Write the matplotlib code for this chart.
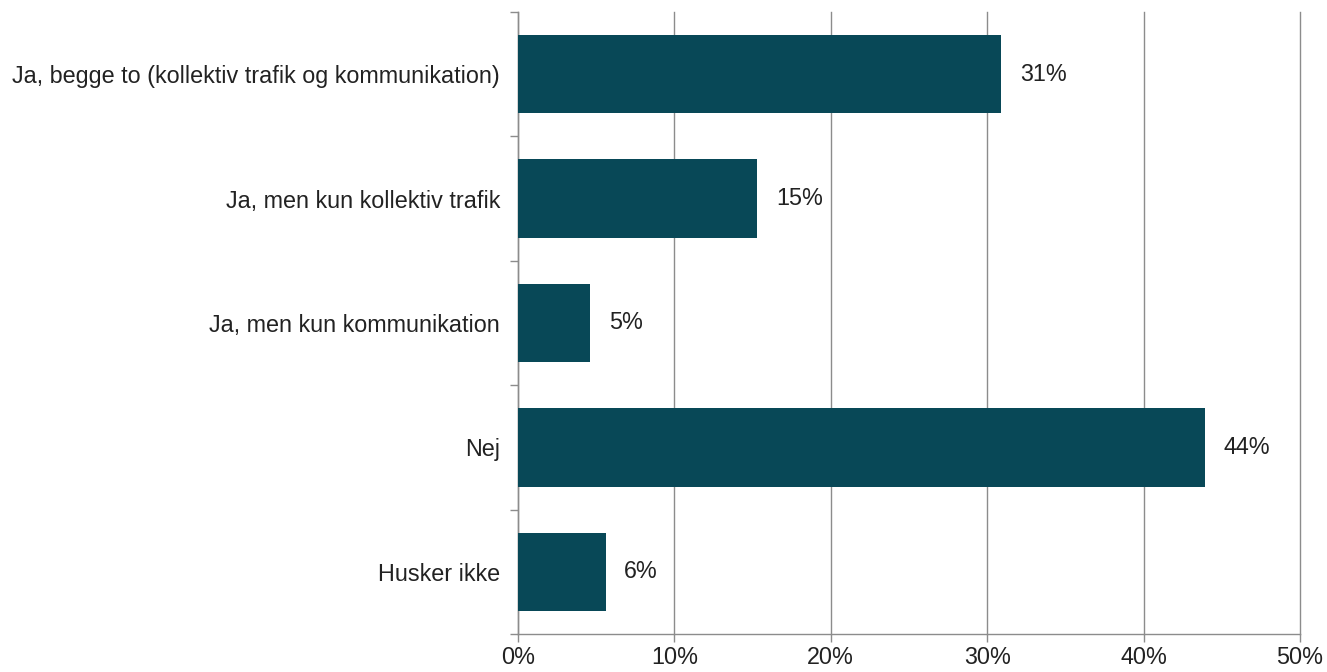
import matplotlib
matplotlib.use("Agg")
import matplotlib.pyplot as plt
from matplotlib.ticker import FuncFormatter

categories = ["Ja, begge to (kollektiv trafik og kommunikation)",
              "Ja, men kun kollektiv trafik",
              "Ja, men kun kommunikation",
              "Nej",
              "Husker ikke"]
values = [30.9, 15.3, 4.6, 43.9, 5.6]
labels = ["31%", "15%", "5%", "44%", "6%"]
xticks = [0, 10, 20, 30, 40, 50]

plt.rcParams['font.family'] = ['Liberation Sans', 'DejaVu Sans']
fs = 16.8
fig = plt.figure(figsize=(13.27, 6.72), dpi=100)
ax = fig.add_axes([518/1327, 1-634/672, (1300-518)/1327, (634-12)/672])

n = len(categories)
ypos = list(range(n))
ax.barh(ypos, values, height=0.63, color="#084857", zorder=3)
for y, v, l in zip(ypos, values, labels):
    ax.text(v + 1.2, y, l, va="center", ha="left", fontsize=fs, color="#222222")

ax.set_ylim(n - 0.5, -0.5)
ax.set_xlim(0, 50)
ax.set_xticks(xticks)
ax.xaxis.set_major_formatter(FuncFormatter(lambda x, p: f"{int(x)}%"))
ax.set_yticks(ypos)
ax.set_yticklabels(categories)
ax.set_yticks([i - 0.5 for i in range(n + 1)], minor=True)
ax.tick_params(axis="y", which="major", length=0, pad=13, labelsize=fs, labelcolor="#222222")
ax.tick_params(axis="y", which="minor", length=6, color="#8c8c8c", width=1)
ax.tick_params(axis="x", length=6, color="#8c8c8c", width=1, labelsize=fs, labelcolor="#222222", pad=3)
ax.grid(axis="x", color="#8c8c8c", linewidth=1, zorder=0)
for gl in ax.get_xgridlines():
    gl.set_clip_on(False)
for s in ["top", "right"]:
    ax.spines[s].set_visible(False)
for s in ["left", "bottom"]:
    ax.spines[s].set_color("#8c8c8c")
    ax.spines[s].set_linewidth(1)

fig.savefig("out.png", dpi=100)
